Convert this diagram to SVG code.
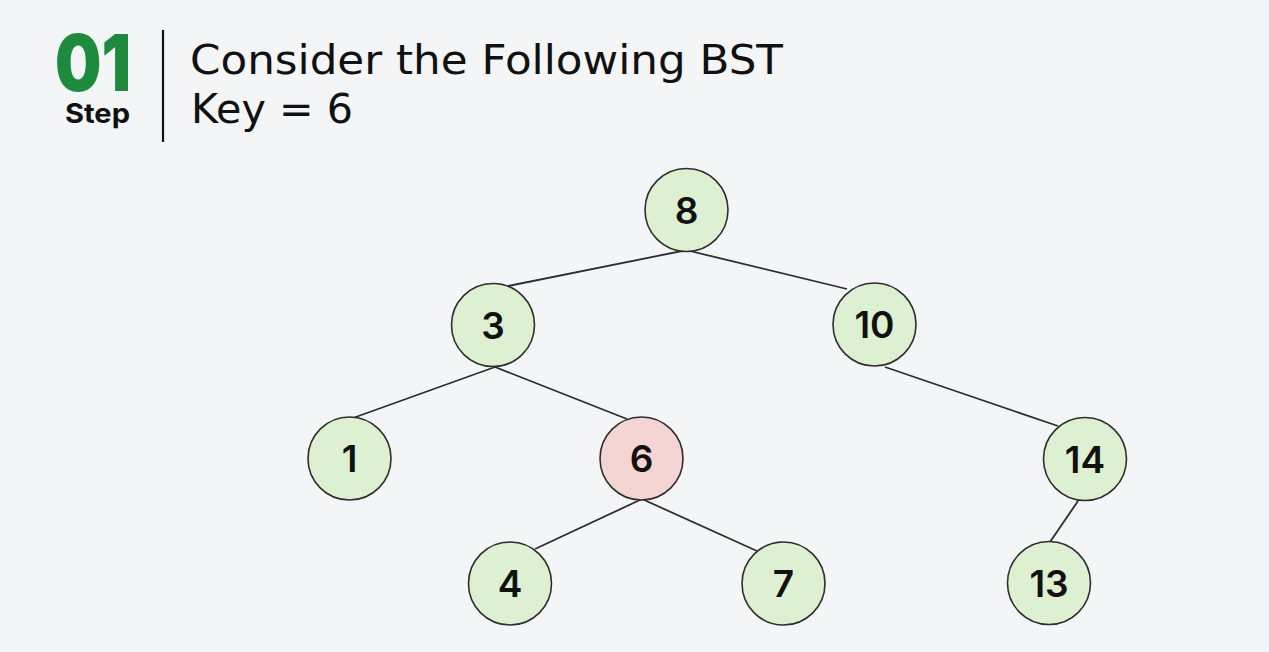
<svg xmlns="http://www.w3.org/2000/svg" width="1269" height="652" viewBox="0 0 1269 652">
<style>
.n{fill:#def0d2;stroke:#2e2e2e;stroke-width:1.6}
.hl{fill:#f5d5d3}
.lbl{font-family:Inter,"Open Sans","Liberation Sans",sans-serif;font-weight:600;font-size:37px;fill:#111;text-anchor:middle}
.e{stroke:#2e2e2e;stroke-width:1.8;fill:none}
.t{font-family:"DejaVu Sans",Inter,"Liberation Sans",sans-serif;font-size:40px;fill:#111}
</style>
<rect width="1269" height="652" fill="#f3f5f7"/>
<g id="header">
<text x="55" y="91" textLength="76" lengthAdjust="spacingAndGlyphs" font-family="Inter,'Liberation Sans',sans-serif" font-weight="900" font-size="78" fill="#1d8a3e">01</text>
<text x="65" y="123" textLength="65" lengthAdjust="spacingAndGlyphs" font-family="Inter,'Liberation Sans',sans-serif" font-weight="700" font-size="27" fill="#111">Step</text>
<line x1="163" y1="30" x2="163" y2="142" stroke="#111" stroke-width="2.2"/>
<text class="t" x="190" y="74" textLength="593" lengthAdjust="spacingAndGlyphs">Consider the Following BST</text>
<text class="t" x="191" y="123" textLength="162" lengthAdjust="spacingAndGlyphs">Key = 6</text>
</g>
<g id="connectors">
<line class="e" x1="682" y1="251" x2="508" y2="286"/>
<line class="e" x1="690" y1="251" x2="847" y2="289"/>
<line class="e" x1="495" y1="367" x2="353" y2="418"/>
<line class="e" x1="495" y1="367" x2="627" y2="419"/>
<line class="e" x1="885" y1="367" x2="1058" y2="426"/>
<line class="e" x1="642" y1="499" x2="535" y2="549"/>
<line class="e" x1="642" y1="499" x2="757" y2="551"/>
<line class="e" x1="1078" y1="501" x2="1050" y2="542"/>
</g>
<g id="node-8"><circle class="n" cx="686.5" cy="210" r="41.5"/><text class="lbl" x="686.5" y="223.5">8</text></g>
<g id="node-3"><circle class="n" cx="493" cy="325" r="41.5"/><text class="lbl" x="493" y="338.5">3</text></g>
<g id="node-10"><circle class="n" cx="874.5" cy="324.5" r="41.5"/><text class="lbl" x="874.5" y="338">10</text></g>
<g id="node-1"><circle class="n" cx="349.5" cy="458.5" r="41.5"/><text class="lbl" x="349.5" y="472">1</text></g>
<g id="node-6"><circle class="n hl" cx="641.5" cy="458.5" r="41.5"/><text class="lbl" x="641.5" y="472">6</text></g>
<g id="node-14"><circle class="n" cx="1085" cy="459" r="41.5"/><text class="lbl" x="1085" y="472.5">14</text></g>
<g id="node-4"><circle class="n" cx="510" cy="583.5" r="41.5"/><text class="lbl" x="510" y="597">4</text></g>
<g id="node-7"><circle class="n" cx="783.5" cy="583.5" r="41.5"/><text class="lbl" x="783.5" y="597">7</text></g>
<g id="node-13"><circle class="n" cx="1049" cy="583" r="41.5"/><text class="lbl" x="1049" y="596.5">13</text></g>
</svg>
